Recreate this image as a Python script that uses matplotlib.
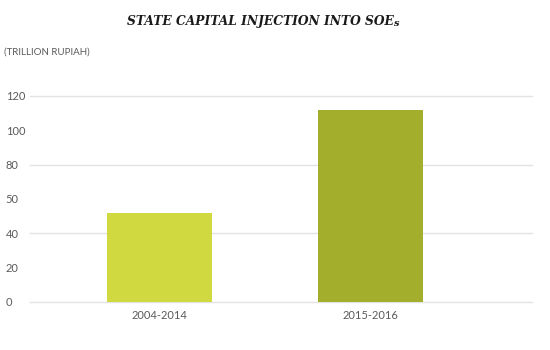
import matplotlib
matplotlib.use("Agg")
import matplotlib.pyplot as plt

periods = ["2004-2014", "2015-2016"]
injection = [52, 112]
bar_colors = ["#d0da40", "#a3ae2d"]
tick_values = [0, 20, 40, 60, 80, 100, 120]
tick_labels = ["0", "20", "40", "50", "80", "100", "120"]
grid_values = [0, 40, 80, 120]

fig = plt.figure(figsize=(5.5, 3.5), dpi=100)
ax = fig.add_axes([30 / 550, 48 / 350, 502 / 550, 223.2 / 350])

ax.bar(range(len(periods)), injection, width=0.5, color=bar_colors, zorder=2)
for g in grid_values:
    ax.axhline(g, color="#e2e2e2", linewidth=1, zorder=1, clip_on=False)

ax.set_xlim(-0.614, 1.765)
ax.set_ylim(0, 130)
ax.set_xticks(range(len(periods)))
ax.set_xticklabels(periods, fontsize=8, color="#5a5a5a", family="Lato")
ax.set_yticks(tick_values)
ax.set_yticklabels(tick_labels, fontsize=8, color="#5a5a5a", family="Lato", ha="left")
ax.tick_params(axis="y", length=0, pad=17.5)
ax.tick_params(axis="x", length=0, pad=6)
for s in ax.spines.values():
    s.set_visible(False)

# title in a wide bold italic serif, the trailing "s" set smaller
title = fig.text(127 / 550, 1 - 22 / 350, "STATE CAPITAL INJECTION INTO SOE", ha="left", va="center",
                 fontsize=8.8, fontweight="bold", style="italic", family="DejaVu Serif",
                 color="#1a1a1a")
fig.canvas.draw()
bb = title.get_window_extent()
fig.text(bb.x1 / 550, 1 - 23 / 350, "s", ha="left", va="center",
         fontsize=7, fontweight="bold", style="italic", family="DejaVu Serif", color="#1a1a1a")
fig.text(4 / 550, 1 - 52 / 350, "(TRILLION RUPIAH)", ha="left", va="center",
         fontsize=7, color="#5a5a5a", family="Lato")

fig.savefig("out.png", dpi=100)
plt.close(fig)
